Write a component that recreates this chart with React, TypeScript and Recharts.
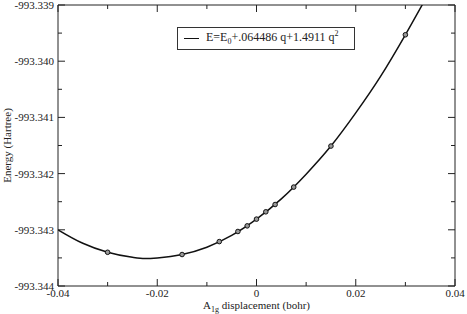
import React from 'react';
import { ComposedChart, Line, Scatter, XAxis, YAxis, Legend, Label } from 'recharts';

// fitted curve
const curveQ = [-0.04, -0.035, -0.03, -0.025, -0.0225, -0.02, -0.015, -0.01, -0.005, 0, 0.005, 0.01, 0.015, 0.02, 0.025, 0.03, 0.0335];
const curveE = [-993.34300, -993.34324, -993.34340, -993.34349, -993.34351, -993.34350, -993.34344, -993.34331, -993.34310, -993.34281, -993.34245, -993.34201, -993.34151, -993.34092, -993.34027, -993.33953, -993.33898];

// computed points (circles)
const pointQ = [-0.03, -0.015, -0.0075, -0.00375, -0.001875, 0, 0.001875, 0.00375, 0.0075, 0.015, 0.03];
const pointE = [-993.34340, -993.34344, -993.34321, -993.34303, -993.34293, -993.34281, -993.34268, -993.34255, -993.34224, -993.34151, -993.33953];

const xTicks = [-0.04, -0.03, -0.02, -0.01, 0, 0.01, 0.02, 0.03, 0.04];
const yTicks = [-993.344, -993.3435, -993.343, -993.3425, -993.342, -993.3415, -993.341, -993.3405, -993.340, -993.3395, -993.339];

const curveData = curveQ.map((q, i) => ({ q, e: curveE[i] }));
const pointData = pointQ.map((q, i) => ({ q, e: pointE[i] }));

const FONT = '"Liberation Serif", "DejaVu Serif", serif';
const INK = '#222';
const txt = { fontFamily: FONT, fontSize: 11, fill: INK };

const isMajorX = (v: number) => Math.abs(Math.round(v * 100)) % 2 === 0;
const isMajorY = (v: number) => Math.abs(Math.round(v * 2000)) % 2 === 0;
const fmtX = (v: number) => (Math.abs(v) < 1e-9 ? '0' : String(Number(v.toFixed(2))));

const BottomTick = (props: any) => {
  const { x, y, payload } = props;
  const major = isMajorX(payload.value);
  return (
    <g>
      <line x1={x} y1={y} x2={x} y2={y - (major ? 7 : 4)} stroke={INK} />
      {major && (
        <text x={x} y={y + 11} textAnchor="middle" style={txt}>
          {fmtX(payload.value)}
        </text>
      )}
    </g>
  );
};

const TopTick = (props: any) => {
  const { x, y, payload } = props;
  const major = isMajorX(payload.value);
  return <line x1={x} y1={y} x2={x} y2={y + (major ? 7 : 4)} stroke={INK} />;
};

const LeftTick = (props: any) => {
  const { x, y, payload } = props;
  const major = isMajorY(payload.value);
  return (
    <g>
      <line x1={x} y1={y} x2={x + (major ? 7 : 4)} y2={y} stroke={INK} />
      {major && (
        <text x={x - 4} y={y + 4} textAnchor="end" style={txt}>
          {payload.value.toFixed(3)}
        </text>
      )}
    </g>
  );
};

const RightTick = (props: any) => {
  const { x, y, payload } = props;
  const major = isMajorY(payload.value);
  return <line x1={x} y1={y} x2={x - (major ? 7 : 4)} y2={y} stroke={INK} />;
};

const XTitle = (props: any) => {
  const { viewBox } = props;
  return (
    <text x={viewBox.x + viewBox.width / 2} y={viewBox.y + 23} textAnchor="middle" style={txt}>
      A<tspan style={{ fontSize: 8 }} dy={3}>1g</tspan>
      <tspan dy={-3}> displacement (bohr)</tspan>
    </text>
  );
};

const YTitle = (props: any) => {
  const { viewBox } = props;
  const cx = 11;
  const cy = viewBox.y + viewBox.height / 2;
  return (
    <text x={cx} y={cy} transform={`rotate(-90 ${cx} ${cy})`} textAnchor="middle" style={txt}>
      Energy (Hartree)
    </text>
  );
};

const LegendBox = () => (
  <div
    style={{
      border: '1px solid #333',
      background: '#fff',
      width: 178,
      height: 23,
      boxSizing: 'border-box',
      display: 'flex',
      alignItems: 'center',
      fontFamily: FONT,
      fontSize: 12,
      color: INK,
      whiteSpace: 'nowrap',
      lineHeight: 1,
    }}
  >
    <span style={{ display: 'inline-block', width: 15, borderTop: '1.5px solid #111', margin: '0 7px 0 6px' }} />
    <span>
      E=E<sub style={{ fontSize: 8 }}>0</sub>+.064486 q+1.4911 q<sup style={{ fontSize: 8 }}>2</sup>
    </span>
  </div>
);

export default function App() {
  return (
    <div style={{ position: 'absolute', left: 0, top: 0, width: 467, height: 314, background: '#fff' }}>
      <ComposedChart width={467} height={314} margin={{ top: 0, right: 0, bottom: 0, left: 0 }}>
        <XAxis
          xAxisId="bottom"
          dataKey="q"
          type="number"
          domain={[-0.04, 0.04]}
          ticks={xTicks}
          interval={0}
          allowDataOverflow
          height={28}
          tickSize={0}
          tickMargin={0}
          tickLine={false}
          axisLine={{ stroke: INK }}
          tick={<BottomTick />}
        >
          <Label content={<XTitle />} />
        </XAxis>
        <XAxis
          xAxisId="top"
          orientation="top"
          dataKey="q"
          type="number"
          domain={[-0.04, 0.04]}
          ticks={xTicks}
          interval={0}
          allowDataOverflow
          height={5}
          tickSize={0}
          tickMargin={0}
          tickLine={false}
          axisLine={{ stroke: INK }}
          tick={<TopTick />}
        />
        <YAxis
          yAxisId="left"
          type="number"
          domain={[-993.344, -993.339]}
          ticks={yTicks}
          interval={0}
          allowDataOverflow
          width={58}
          tickSize={0}
          tickMargin={0}
          tickLine={false}
          axisLine={{ stroke: INK }}
          tick={<LeftTick />}
        >
          <Label content={<YTitle />} />
        </YAxis>
        <YAxis
          yAxisId="right"
          orientation="right"
          type="number"
          domain={[-993.344, -993.339]}
          ticks={yTicks}
          interval={0}
          allowDataOverflow
          width={12}
          tickSize={0}
          tickMargin={0}
          tickLine={false}
          axisLine={{ stroke: INK }}
          tick={<RightTick />}
        />
        <Legend
          layout="horizontal"
          verticalAlign="middle"
          content={<LegendBox />}
          wrapperStyle={{ left: 177, top: 27, width: 178, height: 23 }}
        />
        <Line
          xAxisId="bottom"
          yAxisId="left"
          data={curveData}
          dataKey="e"
          type="monotone"
          stroke="#111"
          strokeWidth={1.5}
          dot={false}
          isAnimationActive={false}
        />
        <Scatter
          xAxisId="bottom"
          yAxisId="left"
          data={pointData}
          dataKey="e"
          isAnimationActive={false}
          shape={(p: any) => <circle cx={p.cx} cy={p.cy} r={2.3} fill="#999" stroke="#111" strokeWidth={1} />}
        />
      </ComposedChart>
    </div>
  );
}
